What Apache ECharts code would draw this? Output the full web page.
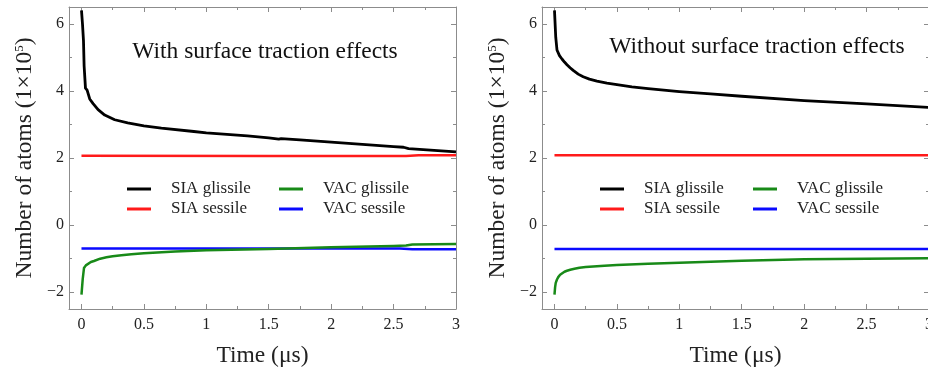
<!DOCTYPE html>
<html>
<head>
<meta charset="utf-8">
<script src="https://cdn.jsdelivr.net/npm/echarts@6/dist/echarts.min.js"></script>
<style>
  html, body { margin: 0; padding: 0; background: #fff; }
  #chart { width: 928px; height: 372px; }
</style>
</head>
<body>
<div id="chart"></div>
<script>
// time in µs, values in units of 1e5 atoms
const panelTitles = ['With surface traction effects', 'Without surface traction effects'];
const seriesNames = ['SIA glissile', 'SIA sessile', 'VAC glissile', 'VAC sessile'];
const seriesColors = ['#000000', '#ff1a1a', '#188a18', '#0a0aff'];

// left panel: with surface traction
const withSiaGlissileT = [0, 0.008, 0.016, 0.021, 0.032, 0.045, 0.066, 0.093, 0.133, 0.186, 0.266, 0.37, 0.5, 0.64, 0.9, 1.0, 1.33, 1.5, 1.58, 1.6, 1.75, 2.0, 2.5, 2.58, 2.62, 3.0];
const withSiaGlissile = [6.4, 6.0, 5.5, 4.75, 4.08, 4.02, 3.76, 3.62, 3.44, 3.28, 3.14, 3.05, 2.96, 2.89, 2.79, 2.75, 2.66, 2.6, 2.56, 2.58, 2.54, 2.47, 2.34, 2.32, 2.28, 2.18];
const withSiaSessileT = [0, 1.5, 2.6, 2.7, 3.0];
const withSiaSessile = [2.07, 2.06, 2.06, 2.08, 2.08];
const withVacGlissileT = [0, 0.01, 0.02, 0.035, 0.05, 0.075, 0.1, 0.15, 0.2, 0.25, 0.32, 0.4, 0.5, 0.75, 1.0, 1.5, 2.0, 2.5, 2.6, 2.65, 3.0];
const withVacGlissile = [-2.07, -1.6, -1.28, -1.2, -1.15, -1.1, -1.07, -1.0, -0.96, -0.93, -0.9, -0.87, -0.84, -0.79, -0.75, -0.71, -0.66, -0.62, -0.61, -0.58, -0.56];
const withVacSessileT = [0, 2.55, 2.65, 3.0];
const withVacSessile = [-0.70, -0.70, -0.72, -0.72];

// right panel: without surface traction
const withoutSiaGlissileT = [0, 0.005, 0.01, 0.02, 0.04, 0.06, 0.08, 0.1, 0.125, 0.15, 0.19, 0.23, 0.28, 0.34, 0.42, 0.5, 0.62, 0.75, 1.0, 1.25, 1.5, 2.0, 2.5, 3.0];
const withoutSiaGlissile = [6.4, 6.0, 5.6, 5.22, 5.05, 4.95, 4.86, 4.78, 4.69, 4.61, 4.5, 4.42, 4.35, 4.29, 4.23, 4.19, 4.12, 4.07, 3.98, 3.91, 3.84, 3.71, 3.61, 3.51];
const withoutSiaSessileT = [0, 3.0];
const withoutSiaSessile = [2.08, 2.08];
const withoutVacGlissileT = [0, 0.005, 0.01, 0.02, 0.03, 0.045, 0.06, 0.08, 0.1, 0.126, 0.16, 0.2, 0.25, 0.31, 0.4, 0.5, 0.75, 1.0, 1.5, 2.0, 2.5, 3.0];
const withoutVacGlissile = [-2.07, -1.85, -1.72, -1.62, -1.55, -1.48, -1.43, -1.39, -1.36, -1.33, -1.3, -1.27, -1.25, -1.23, -1.21, -1.19, -1.15, -1.12, -1.06, -1.02, -1.0, -0.99];
const withoutVacSessileT = [0, 3.0];
const withoutVacSessile = [-0.71, -0.71];

const panels = [
  [[withSiaGlissileT, withSiaGlissile], [withSiaSessileT, withSiaSessile],
   [withVacGlissileT, withVacGlissile], [withVacSessileT, withVacSessile]],
  [[withoutSiaGlissileT, withoutSiaGlissile], [withoutSiaSessileT, withoutSiaSessile],
   [withoutVacGlissileT, withoutVacGlissile], [withoutVacSessileT, withoutVacSessile]]
];

const FONT = '"Liberation Serif", "DejaVu Serif", serif';
const FRAME = '#8c8c8c';
const TEXT = '#222';

const zip = (xs, ys) => xs.map((x, i) => [x, ys[i]]);

const gridBoxes = [
  { left: 69, top: 7, width: 387, height: 302, outerBoundsMode: 'none', containLabel: false },
  { left: 542, top: 7, width: 387, height: 302, outerBoundsMode: 'none', containLabel: false }
];

function xAxisFor(gi, position) {
  const bottom = position === 'bottom';
  return {
    gridIndex: gi, type: 'value', position,
    min: -0.1, max: 3, splitNumber: 6,
    name: bottom ? 'Time (\u03bcs)' : '',
    nameLocation: 'middle', nameGap: 35,
    nameTextStyle: { fontFamily: FONT, fontSize: 23.5, color: TEXT },
    axisLine: { show: true, onZero: false, lineStyle: { color: FRAME, width: 1 } },
    axisTick: { show: true, inside: true, length: 5, lineStyle: { color: FRAME } },
    minorTick: { show: true, splitNumber: 2, length: 3, lineStyle: { color: FRAME } },
    splitLine: { show: false },
    axisLabel: {
      show: bottom, fontFamily: FONT, fontSize: 16, color: TEXT, margin: 8, hideOverlap: false,
      formatter: v => Math.abs(v * 2 - Math.round(v * 2)) > 1e-6 ? '' : String(+v.toFixed(1))
    }
  };
}

function yAxisFor(gi, position) {
  const left = position === 'left';
  return {
    gridIndex: gi, type: 'value', position,
    min: -2.5, max: 6.5, splitNumber: 5,
    name: left ? 'Number of atoms (1\u00d710{sup|5})' : '',
    nameLocation: 'middle', nameGap: 32, nameRotate: 90,
    nameTextStyle: {
      fontFamily: FONT, fontSize: 23.5, color: TEXT,
      rich: { sup: { fontFamily: FONT, fontSize: 13, color: TEXT, verticalAlign: 'top', padding: [0, 0, 9, 0] } }
    },
    axisLine: { show: true, onZero: false, lineStyle: { color: FRAME, width: 1 } },
    axisTick: { show: true, inside: true, length: 5, lineStyle: { color: FRAME } },
    minorTick: { show: true, splitNumber: 2, length: 3, lineStyle: { color: FRAME } },
    splitLine: { show: false },
    axisLabel: {
      show: left, fontFamily: FONT, fontSize: 16, color: TEXT, margin: 5,
      formatter: v => Math.abs(v / 2 - Math.round(v / 2)) > 1e-6 ? '' : String(v).replace('-', '\u2212')
    }
  };
}

const xAxes = [], yAxes = [], series = [], legends = [], graphics = [];
const legendCols = [[127, 279], [600, 753]];
const titlePos = [[265, 52], [757, 47]];

panels.forEach((panel, gi) => {
  xAxes.push(xAxisFor(gi, 'bottom'), xAxisFor(gi, 'top'));
  yAxes.push(yAxisFor(gi, 'left'), yAxisFor(gi, 'right'));
  panel.forEach(([ts, vs], si) => {
    series.push({
      name: seriesNames[si], type: 'line',
      xAxisIndex: gi * 2, yAxisIndex: gi * 2,
      data: zip(ts, vs),
      showSymbol: false, symbol: 'none', smooth: false,
      lineStyle: { color: seriesColors[si], width: si === 0 ? 2.8 : 2.5, join: 'round' },
      itemStyle: { color: seriesColors[si] },
      z: si === 3 ? 2 : 3
    });
  });
  legendCols[gi].forEach((x, ci) => {
    legends.push({
      orient: 'vertical', left: x, top: 179, padding: 0, itemGap: 0,
      itemWidth: 24, itemHeight: 3, icon: 'rect',
      data: ci === 0 ? ['SIA glissile', 'SIA sessile'] : ['VAC glissile', 'VAC sessile'],
      textStyle: { fontFamily: FONT, fontSize: 17, color: TEXT, lineHeight: 20, padding: [0, 0, 0, 15] },
      selectedMode: false
    });
  });
  graphics.push({
    type: 'text', x: titlePos[gi][0], y: titlePos[gi][1],
    style: {
      text: panelTitles[gi], fontFamily: FONT, fontSize: 23.5, fill: '#111',
      textAlign: 'center', textVerticalAlign: 'middle'
    }
  });
});

const chart = echarts.init(document.getElementById('chart'));
chart.setOption({
  backgroundColor: '#fff',
  animation: false,
  grid: gridBoxes,
  xAxis: xAxes,
  yAxis: yAxes,
  legend: legends,
  graphic: graphics,
  series
});
</script>
</body>
</html>
